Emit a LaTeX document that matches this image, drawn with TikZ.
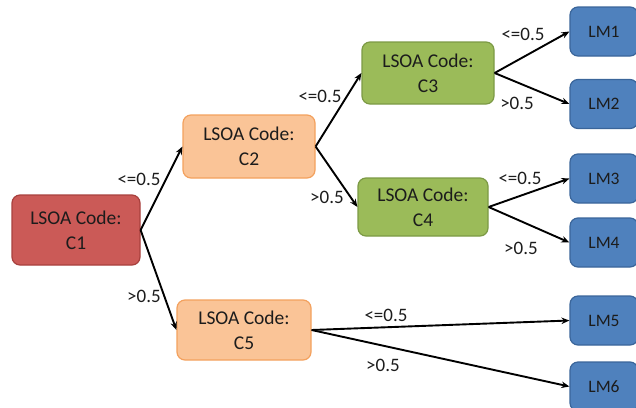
\documentclass[tikz,border=0pt]{standalone}
\usepackage{fontspec}
\setmainfont{Carlito}
\usetikzlibrary{arrows.meta}
\definecolor{redfill}{HTML}{CB5A57}
\definecolor{redline}{HTML}{A8403D}
\definecolor{orfill}{HTML}{FAC497}
\definecolor{orline}{HTML}{F3A15E}
\definecolor{grfill}{HTML}{9BBB59}
\definecolor{grline}{HTML}{7C9A45}
\definecolor{blfill}{HTML}{4F81BD}
\definecolor{blline}{HTML}{3A659A}
\definecolor{txt}{HTML}{1C1C1C}
\tikzset{
  box/.style={draw, line width=1.2pt, rounded corners=8pt, align=center, text=txt,
    font=\fontsize{19.5}{25}\selectfont, inner sep=0pt},
  rbox/.style={box, fill=redfill, draw=redline},
  obox/.style={box, fill=orfill, draw=orline},
  gbox/.style={box, fill=grfill, draw=grline},
  lmbox/.style={box, fill=blfill, draw=blline, minimum width=68pt, minimum height=49pt,
    font=\fontsize{17.5}{20}\selectfont},
  conn/.style={-{Stealth[length=8pt,width=6.5pt]}, line width=1.9pt, black},
  lab/.style={font=\fontsize{19}{20}\selectfont, text=txt, inner sep=0pt}
}
\begin{document}
\begin{tikzpicture}[x=1pt,y=-1pt]
\useasboundingbox (0,0) rectangle (636,407);
\clip (0,0) rectangle (636,407);
\node[rbox, minimum width=128pt, minimum height=70pt] (c1) at (76,230) {LSOA Code:\\C1};
\node[obox, minimum width=132pt, minimum height=63pt] (c2) at (249,146.5) {LSOA Code:\\C2};
\node[gbox, minimum width=132pt, minimum height=62pt] (c3) at (428,73) {LSOA Code:\\C3};
\node[gbox, minimum width=130pt, minimum height=58pt] (c4) at (423,207) {LSOA Code:\\C4};
\node[obox, minimum width=134pt, minimum height=60pt] (c5) at (244,330) {LSOA Code:\\C5};
\node[lmbox] (lm1) at (604,31.5) {LM1};
\node[lmbox] (lm2) at (604,104) {LM2};
\node[lmbox] (lm3) at (604,178.5) {LM3};
\node[lmbox] (lm4) at (604,242.5) {LM4};
\node[lmbox] (lm5) at (604,320.5) {LM5};
\node[lmbox] (lm6) at (604,386.5) {LM6};
\draw[conn] (c1.east) -- (c2.west);
\draw[conn] (c1.east) -- (c5.west);
\draw[conn] (c2.east) -- (c3.west);
\draw[conn] (c2.east) -- (c4.west);
\draw[conn] (c3.east) -- (lm1.west);
\draw[conn] (c3.east) -- (lm2.west);
\draw[conn] (c4.east) -- (lm3.west);
\draw[conn] (c4.east) -- (lm4.west);
\draw[conn] (c5.east) -- (lm5.west);
\draw[conn] (c5.east) -- (lm6.west);
\node[lab] (l1) at (139,179) {<=0.5};
\node[lab] (l2) at (144,296) {>0.5};
\node[lab] (l3) at (320,96) {<=0.5};
\node[lab] (l4) at (327,197) {>0.5};
\node[lab] (l5) at (523,34) {<=0.5};
\node[lab] (l6) at (517,103) {>0.5};
\node[lab] (l7) at (520,178) {<=0.5};
\node[lab] (l8) at (521,248) {>0.5};
\node[lab] (l9) at (386,315) {<=0.5};
\node[lab] (l10) at (383,365) {>0.5};
\end{tikzpicture}
\end{document}
